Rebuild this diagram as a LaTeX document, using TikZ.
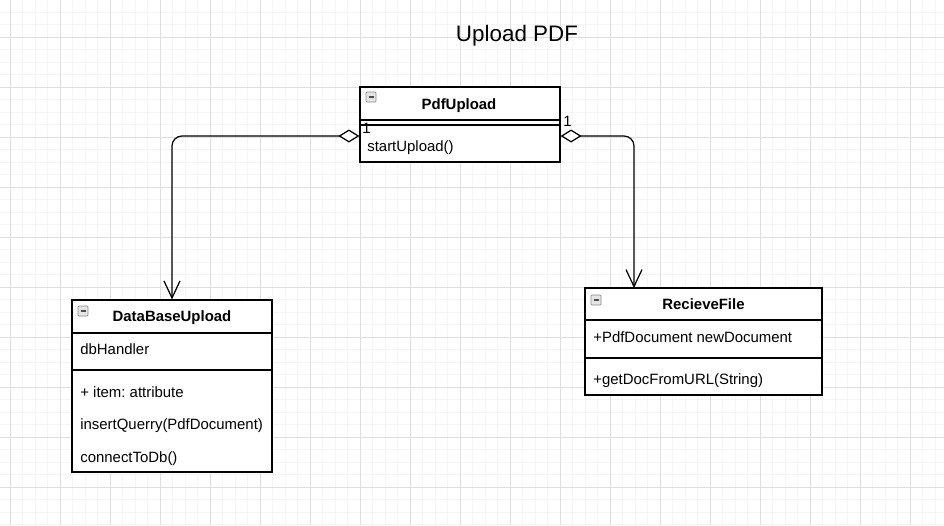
\documentclass[tikz,border=0pt]{standalone}
\usepackage{fontspec}
\setmainfont{Liberation Sans}
\usetikzlibrary{arrows.meta}
\frenchspacing

\begin{document}
\begin{tikzpicture}[x=0.02cm,y=-0.02cm]
\tikzstyle{every node}+=[inner sep=0pt, font=\fontsize{8.5}{10}\selectfont]
\tikzstyle{minorgrid}=[draw=black!4, line width=0.5pt]
\tikzstyle{majorgrid}=[draw=black!13, line width=0.5pt]
\tikzstyle{classbox}=[draw, line width=0.7pt, fill=white]
\tikzstyle{classname}=[font=\fontsize{8.5}{10}\selectfont\bfseries, anchor=base]
\tikzstyle{member}=[anchor=base west]
\tikzstyle{agg}=[line width=0.7pt, rounded corners=0.2cm,
  {Diamond[fill=white, length=0.42cm, width=0.26cm]}-{Straight Barb[length=0.34cm, width=0.32cm]}]

\useasboundingbox (0,0) rectangle (944,525);
\fill[white] (0,0) rectangle (944,525);

% grid
\foreach \i in {0,...,74} \draw[minorgrid] ({10+12.5*\i},0) -- ({10+12.5*\i},525);
\foreach \j in {0,...,41} \draw[minorgrid] (0,{12.3+12.5*\j}) -- (944,{12.3+12.5*\j});
\foreach \i in {0,...,18} \draw[majorgrid] ({10+50*\i},0) -- ({10+50*\i},525);
\foreach \j in {0,...,9} \draw[majorgrid] (0,{37.3+50*\j}) -- (944,{37.3+50*\j});

\node[font=\fontsize{12.75}{15}\selectfont, anchor=base] (title) at (517,41.7) {Upload PDF};

% PdfUpload
\node[classbox, minimum width=4cm, minimum height=1.5cm] (pdfupload) at (460,124.5) {};
\draw[line width=0.7pt] (pdfupload.west |- 0,120) -- (pdfupload.east |- 0,120);
\draw[line width=0.7pt] (pdfupload.west |- 0,125) -- (pdfupload.east |- 0,125);
\node[classname] (pdfname) at (459,109.3) {PdfUpload};
\node[member] (startup) at (367,151) {startUpload()};

% DataBaseUpload
\node[classbox, minimum width=4cm, minimum height=3.44cm] (dbupload) at (172,386) {};
\draw[line width=0.7pt] (dbupload.west |- 0,333) -- (dbupload.east |- 0,333);
\draw[line width=0.7pt] (dbupload.west |- 0,370) -- (dbupload.east |- 0,370);
\node[classname] (dbname) at (172,321.7) {DataBaseUpload};
\node[member] (dbhandler) at (80,354.5) {dbHandler};
\node[member] (dbitem) at (80,397) {+ item: attribute};
\node[member] (dbinsert) at (80,429.5) {insertQuerry(PdfDocument)};
\node[member] (dbconnect) at (80,462) {connectToDb()};

% RecieveFile
\node[classbox, minimum width=4.74cm, minimum height=2.14cm] (recvfile) at (703.5,341.5) {};
\draw[line width=0.7pt] (recvfile.west |- 0,320) -- (recvfile.east |- 0,320);
\draw[line width=0.7pt] (recvfile.west |- 0,358) -- (recvfile.east |- 0,358);
\node[classname] (recvname) at (703.5,309.3) {RecieveFile};
\node[member] (recvdoc) at (593,342.7) {+PdfDocument newDocument};
\node[member] (recvget) at (593,384) {+getDocFromURL(String)};

% collapse icons
\foreach \x/\y in {366/92, 78/306, 591/295} {
  \draw[black!45, fill=black!10, rounded corners=0.5pt] (\x,\y) rectangle ++(10,10);
  \draw[black!70, line width=0.8pt] (\x+2.5,\y+5) -- ++(5,0);
}

% aggregations
\coordinate (recvin) at (634,288);
\draw[agg] (pdfupload.west |- 0,136) -| (dbupload.north);
\draw[agg] (pdfupload.east |- 0,136) -| (recvin);
\node[member] (multl) at (362,133) {1};
\node[member] (multr) at (563,126) {1};
\end{tikzpicture}
\end{document}
